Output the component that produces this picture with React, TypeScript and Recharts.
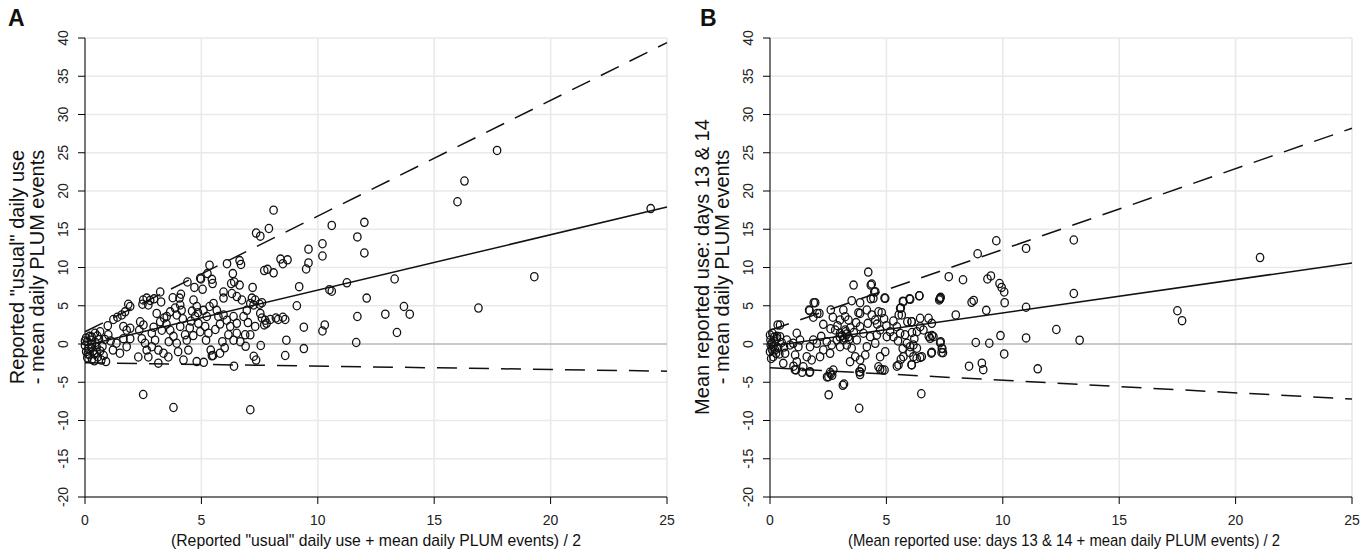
import React from "react";
import { CartesianGrid, ReferenceLine, Scatter, ScatterChart, XAxis, YAxis } from "recharts";

// ---- data ----
const xTicks = [0, 5, 10, 15, 20, 25];
const yTicks = [-20, -15, -10, -5, 0, 5, 10, 15, 20, 25, 30, 35, 40];

// panel A: [mean, difference]
const pointsA: [number, number][] = [
  [24.3, 17.7], [17.7, 25.3], [16.3, 21.3], [16.0, 18.6], [19.3, 8.8], [16.9, 4.7], [13.3, 8.5], [12.9, 3.9],
  [13.7, 4.9], [13.95, 3.9], [13.4, 1.5], [8.1, 17.5], [7.9, 15.1], [10.6, 15.5], [12.0, 15.9], [11.7, 14.0],
  [10.2, 13.1], [9.6, 12.4], [10.2, 11.5], [12.0, 11.9], [8.4, 11.1], [8.7, 11.0], [8.5, 10.5], [9.6, 10.6],
  [9.5, 9.8], [8.1, 9.3], [7.84, 9.76], [9.2, 7.5], [10.5, 7.1], [10.6, 6.9], [11.25, 8.0], [12.1, 6.0], [9.1, 5.0],
  [11.7, 3.6], [8.2, 3.4], [8.5, 3.5], [7.96, 3.2], [8.3, 3.2], [8.6, 3.2], [9.4, 2.2], [10.2, 1.7], [10.3, 2.5],
  [8.65, 0.5], [9.4, -0.6], [8.6, -1.5], [11.65, 0.2], [7.35, 14.5], [7.53, 14.1],
  [2.5, -6.6], [3.8, -8.3], [7.1, -8.6], [6.4, -2.9], [5.5, -1.5], [5.45, -1.55], [7.25, -1.6], [7.35, -2.1],
  [7.55, -0.2], [7.7, 9.6], [7.2, 7.4],
  [0.05, 0.8], [0.1, 0.3], [0.0, -0.2], [0.15, -0.6], [0.05, -1.0], [0.2, -1.4], [0.1, -1.8], [0.3, -2.0],
  [0.25, 0.5], [0.3, -0.1], [0.35, -0.9], [0.4, -1.3], [0.45, 0.2], [0.5, -0.4], [0.55, -1.7], [0.6, 0.6],
  [0.2, 1.0], [0.4, -2.2], [0.65, -0.9], [0.7, -2.1], [0.0, 0.4], [0.12, -1.3], [0.28, -0.5], [0.5, -1.1],
  [0.75, -0.3], [0.85, 0.6], [0.8, -1.5], [0.9, -2.3],
  [0.65, 1.6], [0.43, 1.4], [0.53, 1.05], [0.29, 0.9], [0.98, 2.4], [1.22, 3.2], [1.39, 3.5], [1.58, 3.8],
  [1.72, 4.2], [1.86, 5.2], [1.94, 4.9], [1.65, 2.3], [1.79, 1.8], [1.94, 2.05], [1.65, 0.7], [1.79, -0.35],
  [1.94, 0.7], [1.1, 0.4], [1.2, -0.8], [1.0, 1.2], [1.35, 0.1], [1.5, -1.2],
  [2.37, 2.9], [2.51, 2.5], [2.33, 1.8], [2.44, 0.7], [2.58, 0.1], [2.65, -0.8], [2.29, -1.7], [2.72, -1.7],
  [2.87, 1.4], [3.01, 0.5], [2.87, -0.35], [2.5, 5.75], [2.65, 6.0], [2.8, 5.7], [2.97, 5.9], [2.47, 5.2],
  [2.72, 5.1], [3.23, 6.8], [3.27, 5.5], [3.08, 4.0], [3.23, 2.9], [3.3, 1.8], [3.15, -0.8], [3.37, -1.2],
  [3.15, -2.5], [3.58, -1.7], [3.51, 3.6],
  [3.66, 4.2], [3.87, 4.7], [4.09, 5.1], [3.94, 3.8], [3.66, 1.8], [3.8, 1.0], [3.94, 0.1], [4.09, 2.3],
  [4.23, -2.1], [4.44, -0.8], [4.37, 0.5], [3.77, 6.05], [4.06, 6.0], [4.12, 6.5], [4.66, 5.75], [4.8, 4.9],
  [4.73, 3.6], [4.87, 2.7], [4.95, 1.6], [4.8, -2.3], [4.4, 8.1], [4.7, 7.4], [4.98, 8.5], [3.5, 2.6],
  [4.2, 3.3], [4.5, 2.1], [4.6, 4.3], [4.3, 1.2], [4.0, -1.0], [3.6, 0.3], [4.95, 8.6], [5.26, 9.2],
  [5.09, 4.4], [5.23, 3.6], [5.16, 2.3], [5.3, 1.4], [5.52, 5.3], [5.66, 4.4], [5.73, 3.6], [5.95, 3.8],
  [6.09, 3.1], [6.24, 2.3], [6.38, 3.6], [6.52, 2.7], [6.16, 1.2], [6.38, 0.5], [5.05, 7.15], [5.45, 8.45],
  [5.48, 7.9], [5.95, 6.8], [5.95, 6.0], [6.31, 6.6], [6.52, 6.2], [6.35, 9.2], [6.41, 8.1], [6.28, 7.9],
  [5.35, 10.3], [6.1, 10.5], [6.64, 10.9], [6.7, 10.4], [5.2, 0.5], [5.6, 1.9], [5.9, 0.3], [6.0, -0.5],
  [5.4, -0.8], [5.1, -2.4], [5.8, -1.2],
  [6.52, 1.4], [6.67, 0.3], [6.81, 3.6], [6.95, 4.4], [7.1, 5.3], [7.24, 5.1], [6.88, 1.2], [7.1, 1.2],
  [7.53, 4.0], [7.6, 3.4], [7.74, 3.1], [7.31, 2.3], [7.17, 6.0], [7.31, 5.75], [6.74, 5.75], [6.64, 7.7],
  [7.5, 5.2], [7.8, 2.7], [7.0, 2.8], [6.9, -0.3], [7.7, 2.5], [7.6, 5.4],
  [4.55, 3.0], [4.85, 4.1], [5.35, 4.9], [5.8, 2.6], [4.15, 4.4], [3.4, 3.4], [2.95, 2.2], [4.65, 1.1],
];

// panel B: [mean, difference]
const pointsB: [number, number][] = [
  [21.05, 11.3], [17.5, 4.35], [17.7, 3.05], [13.05, 13.6], [13.05, 6.6], [13.3, 0.5], [12.3, 1.9], [11.5, -3.25],
  [11.0, 12.5], [11.0, 4.8], [11.0, 0.8], [9.72, 13.5], [8.92, 11.8], [10.06, -1.3], [10.08, 5.4], [9.9, 1.1],
  [9.86, 7.9], [9.95, 7.4], [10.06, 6.8], [9.49, 8.9], [9.34, 8.5], [9.29, 4.4], [9.42, 0.1], [8.84, 0.2],
  [9.1, -2.5], [9.16, -3.35], [8.55, -2.9], [8.66, 5.45], [8.75, 5.7], [8.29, 8.4], [7.68, 8.8], [7.98, 3.8],
  [7.3, 5.9], [7.33, 6.1], [7.33, 0.3], [7.4, -0.6], [7.37, -1.1], [6.93, -1.2], [6.96, 1.1], [6.82, 1.0],
  [6.5, -6.5], [6.41, 6.3], [5.9, 2.9], [6.08, 2.9], [5.99, 5.9], [5.71, 5.6], [5.62, 4.7], [5.53, 3.8],
  [4.92, 6.0], [4.33, 7.7], [4.48, 6.8], [4.33, 5.9], [4.22, 9.4], [3.59, 7.7], [3.87, 5.4], [3.87, 4.0],
  [3.83, -8.4], [3.13, -5.4], [2.52, -6.65], [2.45, -4.3], [2.67, -4.1], [2.58, -3.7], [1.88, 5.4], [2.03, 4.0],
  [1.7, 4.35], [0.33, 2.5], [1.38, -3.7], [1.7, -3.7], [1.07, -3.35], [1.01, -2.9], [3.87, -3.65], [3.87, -4.0],
  [4.83, -3.4], [4.92, -3.4], [5.45, -2.9], [5.62, -2.0], [6.08, -2.7], [6.45, -1.75],
  [4.37, 7.84], [4.52, 6.84], [4.44, 5.97], [4.95, 5.97], [3.51, 5.66], [3.8, 4.1], [1.94, 5.4], [1.68, 4.44],
  [2.12, 4.0], [1.86, 3.5], [2.61, 4.44], [2.7, 3.5], [2.29, 2.57], [0.43, 2.48], [3.15, 4.44], [3.23, 3.57],
  [3.01, 3.14], [3.37, 3.14], [4.16, 4.44], [4.37, 3.8], [4.66, 4.22], [4.8, 4.1], [4.52, 3.14], [5.59, 4.66],
  [5.73, 5.53], [6.02, 5.84], [6.42, 6.31], [5.66, 3.8], [6.09, 2.92], [6.45, 3.36], [6.81, 3.36], [6.95, 2.7],
  [7.31, 5.97], [7.27, 5.75],
  [7.38, -0.56], [7.43, -1.14], [7.31, 0.17], [6.95, -1.09], [6.88, 0.74], [7.02, 0.96], [6.52, -1.66], [6.16, -1.66],
  [6.09, -2.74], [5.73, -1.66], [5.52, -2.74], [5.88, 0.09], [6.02, -0.35], [6.16, -0.13], [6.31, -0.56], [6.45, 2.26],
  [6.59, 1.83], [6.31, 1.61], [5.45, 2.26], [5.59, 1.4], [5.3, 0.96], [5.16, 1.61], [5.02, 0.96], [4.73, 1.83],
  [4.59, 1.18], [4.3, 0.96], [4.52, 0.09], [3.87, 2.26], [4.01, 1.4], [3.73, 0.52], [4.16, -0.35], [4.73, -1.66],
  [4.95, -1.0], [4.66, -2.97], [4.73, -3.31], [3.94, -3.18], [3.84, -3.62], [3.18, -5.23], [2.72, -3.4], [2.61, -3.92],
  [2.51, -4.27], [3.15, 0.52], [3.37, 0.96], [3.01, 1.4], [3.23, 1.83], [3.3, -0.13], [3.01, -0.35], [3.51, -0.56],
  [3.66, -1.66], [3.87, -2.09], [4.09, -1.44], [3.44, -2.31], [2.8, 1.83], [2.87, 0.52], [2.65, -0.13], [2.44, 0.3],
  [2.29, -0.78], [2.15, -1.66], [2.58, -1.22], [1.86, 0.52], [1.72, -0.35], [2.01, 0.09], [1.58, -1.66], [1.79, -2.09],
  [1.72, -3.62], [1.43, -2.97], [1.15, 1.4], [1.29, 0.52], [1.0, 0.09], [1.22, -0.35], [1.08, -1.44], [1.15, -2.31],
  [1.12, -3.4], [0.86, -0.13], [0.57, -2.53], [0.65, -1.22], [0.72, 0.52], [0.43, 0.96], [0.0, 1.18], [0.02, 0.52],
  [0.07, 0.09], [0.14, -0.35], [0.22, -0.78], [0.0, -1.0], [0.29, 0.74], [0.03, -0.13], [0.14, -1.66], [0.26, -1.22],
  [0.1, 1.4], [0.2, 0.3], [0.35, -0.5], [0.4, -1.3], [0.05, -1.9], [0.5, 0.2], [0.3, 1.0], [0.6, -0.4],
  [0.18, 0.9], [0.08, -0.7],
  [3.1, 1.1], [3.2, 0.8], [3.3, 1.3], [3.4, 0.6], [3.0, 0.9], [3.25, 1.6], [3.45, 2.1], [2.9, 2.4],
  [3.6, 1.5], [3.7, 2.8], [2.6, 2.0], [2.2, 1.0], [4.6, 2.6], [4.9, 3.3], [5.0, 2.4], [4.2, 2.7],
  [5.3, 3.0], [5.8, 1.2], [6.2, 0.7], [5.5, 0.4], [5.7, -0.6], [6.0, -1.1], [6.3, -1.9], [6.1, 1.5],
];

// fitted bias and limits: [y at x=0, y at x=25]
const meanA = [-0.2, 17.9];
const upperA = [1.6, 39.4];
const lowerA = [-2.45, -3.55];
const meanB = [-0.3, 10.6];
const upperB = [1.8, 28.2];
const lowerB = [-3.1, -7.2];

const FONT = "'Liberation Sans', Arial, Helvetica, sans-serif";

const Ring = (props: any) => (
  <ellipse cx={props.cx} cy={props.cy} rx={3.7} ry={4.1} fill="none" stroke="#111" strokeWidth={1.3} />
);

const YTick = ({ x, y, payload }: any) => (
  <text transform={`translate(${x - 8},${y}) rotate(-90)`} textAnchor="middle" fontSize={14} fontFamily={FONT} fill="#222">
    {payload.value}
  </text>
);

const XTick = ({ x, y, payload }: any) => (
  <text x={x} y={y + 19} textAnchor="middle" fontSize={14} fontFamily={FONT} fill="#222">
    {payload.value}
  </text>
);

function Panel({ pts, mean, upper, lower, left, width, right }: any) {
  const data = pts.map(([x, y]: [number, number]) => ({ x, y }));
  const seg = (l: number[]) => [{ x: 0, y: l[0] }, { x: 25, y: l[1] }];
  return (
    <div style={{ position: "absolute", left, top: 0 }}>
      <ScatterChart width={width} height={554} margin={{ top: 38, right, bottom: 0, left: 0 }}>
        <CartesianGrid stroke="#e9e9e9" strokeWidth={1.6} />
        <XAxis type="number" dataKey="x" domain={[0, 25]} ticks={xTicks} height={57} tickSize={7}
          axisLine={{ stroke: "#000" }} tickLine={{ stroke: "#000" }} tick={<XTick />} />
        <YAxis type="number" dataKey="y" domain={[-20, 40]} ticks={yTicks} width={85} tickSize={7}
          axisLine={{ stroke: "#000" }} tickLine={{ stroke: "#000" }} tick={<YTick />} />
        <ReferenceLine y={0} stroke="#bdbdbd" strokeWidth={1.5} />
        <ReferenceLine segment={seg(mean)} stroke="#111" strokeWidth={1.5} />
        <ReferenceLine segment={seg(upper)} stroke="#111" strokeWidth={1.5} strokeDasharray="20 12" />
        <ReferenceLine segment={seg(lower)} stroke="#111" strokeWidth={1.5} strokeDasharray="20 12" />
        <Scatter data={data} shape={<Ring />} isAnimationActive={false} />
      </ScatterChart>
    </div>
  );
}

export default function App() {
  return (
    <div style={{ position: "absolute", left: 0, top: 0, width: 1364, height: 554, background: "#fff" }}>
      <Panel pts={pointsA} mean={meanA} upper={upperA} lower={lowerA} left={0} width={690} right={23} />
      <Panel pts={pointsB} mean={meanB} upper={upperB} lower={lowerB} left={685} width={679} right={12} />
      <svg width={1364} height={554} style={{ position: "absolute", left: 0, top: 0, pointerEvents: "none" }}
        fontFamily={FONT} fill="#111">
        <text x={8} y={26} fontSize={23} fontWeight="bold">A</text>
        <text x={700} y={26} fontSize={23} fontWeight="bold">B</text>
        <g fontSize={20} textAnchor="middle">
          <text transform="translate(24,267) rotate(-90)">Reported "usual" daily use</text>
          <text transform="translate(44,267) rotate(-90)">- mean daily PLUM events</text>
          <text transform="translate(709,267) rotate(-90)">Mean reported use: days 13 &amp; 14</text>
          <text transform="translate(729,267) rotate(-90)">- mean daily PLUM events</text>
        </g>
        <g fontSize={17} textAnchor="middle">
          <text x={376} y={546} textLength={410} lengthAdjust="spacingAndGlyphs">(Reported "usual" daily use + mean daily PLUM events) / 2</text>
          <text x={1064} y={546} textLength={432} lengthAdjust="spacingAndGlyphs">(Mean reported use: days 13 &amp; 14 + mean daily PLUM events) / 2</text>
        </g>
      </svg>
    </div>
  );
}
